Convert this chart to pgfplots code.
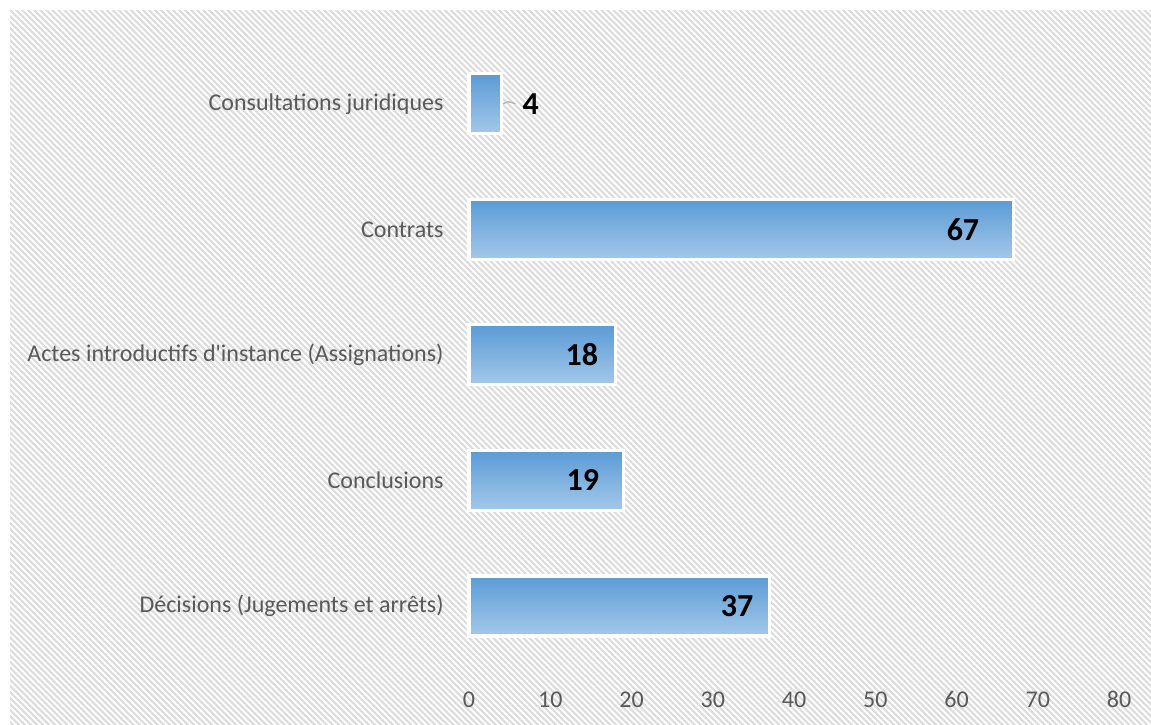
\documentclass[border=0pt]{standalone}
\usepackage{pgfplots}
\pgfplotsset{compat=1.18}
\usepackage{fontspec}
\setmainfont{Carlito}
\usetikzlibrary{patterns.meta}

\definecolor{txtgray}{HTML}{595959}
\definecolor{bartop}{HTML}{5B9BD5}
\definecolor{barbot}{HTML}{A4C8EA}
\definecolor{hatch}{HTML}{DCDCDC}

\tikzset{docbar/.style={draw=white, line width=1.2pt, top color=bartop, bottom color=barbot}}

\begin{document}
\begin{tikzpicture}
\useasboundingbox (-175.875pt,-20.72pt) rectangle (255.75pt,250.78pt);
\fill[pattern={Lines[angle=-45,distance=1.6pt,line width=0.8pt]},pattern color=hatch]
  (-172.1pt,-20.72pt) rectangle (255.75pt,246.66pt);
\begin{axis}[
    at={(0,0)}, anchor=south west,
    scale only axis,
    width=243.75pt, height=235.4pt,
    xbar, bar width=22.5pt, bar shift=0pt,
    xmin=0, xmax=80, ymin=-0.5, ymax=4.5,
    xtick={0,10,...,80},
    ytick={0,1,2,3,4},
    yticklabels={D\'ecisions (Jugements et arr\^ets),Conclusions,Actes introductifs d\textquotesingle instance (Assignations),Contrats,Consultations juridiques},
    axis line style={draw=none},
    major tick length=0pt,
    tick style={draw=none},
    /pgf/number format/assume math mode=true,
    ticklabel style={font=\fontsize{9pt}{11pt}\selectfont, text=txtgray},
    xticklabel style={anchor=center, yshift=-11.6pt},
    yticklabel style={anchor=east, xshift=-6pt},
    nodes near coords,
    nodes near coords style={anchor=center, text=black,
        font=\fontsize{12pt}{14pt}\selectfont\bfseries,
        /pgf/number format/assume math mode=true},
    clip=false,
]
% one plot per bar so each bar gets its own top-to-bottom shading
\addplot[docbar, nodes near coords style={xshift=-12.2pt}] coordinates {(37,0)};
\addplot[docbar, nodes near coords style={xshift=-15.2pt}] coordinates {(19,1)};
\addplot[docbar, nodes near coords style={xshift=-12.5pt}] coordinates {(18,2)};
\addplot[docbar, nodes near coords style={xshift=-18.9pt}] coordinates {(67,3)};
\addplot[docbar, nodes near coords style={xshift=11.0pt}] coordinates {(4,4)};
\draw[gray!60, line width=0.5pt] (axis cs:4.2,4) .. controls (axis cs:4.8,4.02) .. (axis cs:5.7,4);
\end{axis}
\end{tikzpicture}
\end{document}
